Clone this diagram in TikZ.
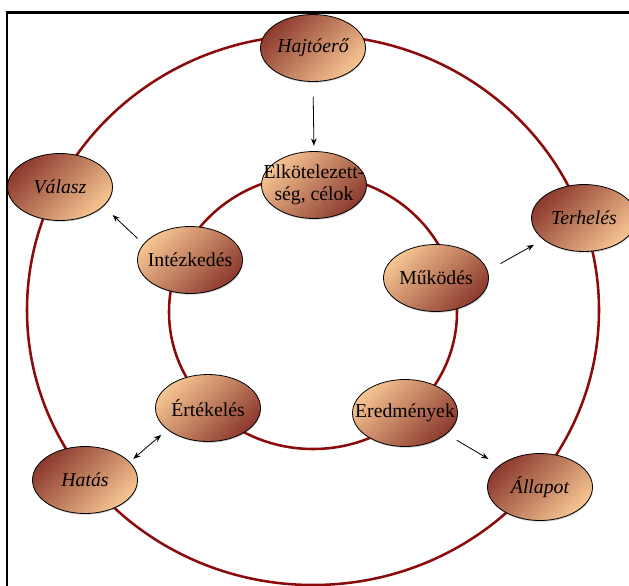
\documentclass[tikz,border=0pt]{standalone}
\usepackage{fontspec}
\setmainfont{Liberation Serif}
\usetikzlibrary{shapes.geometric,arrows.meta,shadows}
\definecolor{ringred}{HTML}{8B0A0A}
\definecolor{bubdark}{HTML}{8C3A2E}
\definecolor{bublight}{HTML}{F6C592}
% zero-width box so the ellipse keeps its own size whatever the label
\newcommand{\freelabel}[1]{\makebox[0pt][c]{#1}}
\begin{document}
\begin{tikzpicture}[x=0.75pt,y=-0.75pt,
  bubble/.style={ellipse, draw=black, line width=0.6pt,
    minimum width=78.75pt, minimum height=50.25pt, inner sep=0pt,
    drop shadow={shadow xshift=0.4pt, shadow yshift=-0.9pt, opacity=0.3, fill=black!70}},
  outerbub/.style={bubble, top color=bubdark, bottom color=bublight, shading angle=45,
    font=\fontsize{14.8}{16.6}\selectfont\itshape},
  innerbub/.style={bubble, top color=bublight, bottom color=bubdark, shading angle=45,
    font=\fontsize{14.8}{16.6}\selectfont},
  ring/.style={draw=ringred, line width=1.9pt},
  link/.style={-{Stealth[length=5.5pt,width=4.2pt]}, line width=0.6pt},
  biglink/.style={{Stealth[length=5.5pt,width=4.2pt]}-{Stealth[length=5.5pt,width=4.2pt]}, line width=0.6pt},
]
\useasboundingbox (0,0) rectangle (629,586);

% frame
\draw[line width=1.6pt] (7,586) -- (7,12.5) -- (629,12.5);

% the two rings
\draw[ring] (313,310) ellipse [x radius=286, y radius=275];
\draw[ring] (313,312) ellipse [x radius=144, y radius=137];

% outer ring
\node[outerbub] (hajto) at (313,48)  {\freelabel{Hajtóerő}};
\node[outerbub] (valasz) at (60,187) {\freelabel{Válasz}};
\node[outerbub] (terh) at (584,218)  {\freelabel{Terhelés}};
\node[outerbub] (hatas) at (85,480)  {\freelabel{Hatás}};
\node[outerbub] (allapot) at (540,487) {\freelabel{Állapot}};

% inner ring
\node[innerbub] (elkot) at (314,185)
  {\freelabel{\begin{tabular}{@{}c@{}}Elkötelezett-\\ség, célok\end{tabular}}};
\node[innerbub] (intez) at (190,260) {\freelabel{Intézkedés}};
\node[innerbub] (mukod) at (436,278) {\freelabel{Működés}};
\node[innerbub] (ertek) at (208,408) {\freelabel{Értékelés}};
\node[innerbub] (eredm) at (405,413) {\freelabel{Eredmények}};

% connectors
\draw[link, shorten <=11pt, shorten >=4pt] (hajto.south) -- (elkot.north);
\draw[link, shorten <=6pt, shorten >=9.5pt] (intez.161.5) -- (valasz.336.5);
\draw[link, shorten <=11pt, shorten >=8pt] (mukod.8.5) -- (terh.208.8);
\draw[link, shorten <=9pt, shorten >=9.5pt] (eredm.333.7) -- (allapot.152.7);
\draw[biglink, shorten <=6pt, shorten >=3.5pt] (ertek.208.9) -- (hatas.22.7);
\end{tikzpicture}
\end{document}
